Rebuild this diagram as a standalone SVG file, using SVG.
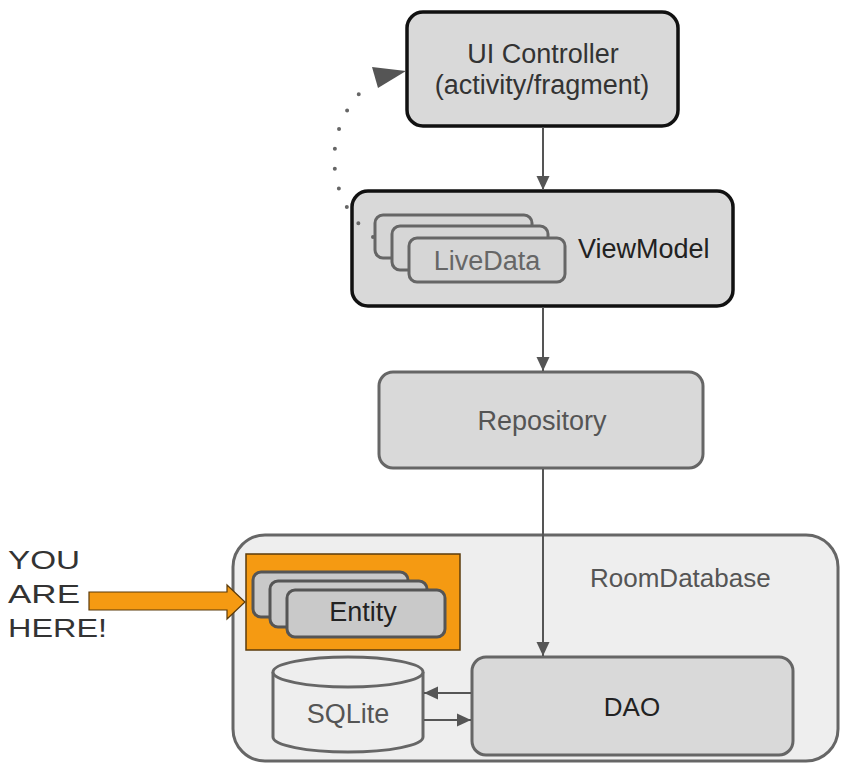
<svg xmlns="http://www.w3.org/2000/svg" width="842" height="764" viewBox="0 0 842 764">
<defs>
<style>
text{font-family:"Liberation Sans",Arial,Helvetica,sans-serif;}
.box{fill:#d9d9d9;}
.dark{stroke:#111;stroke-width:3.5;}
.gray{stroke:#666;stroke-width:3;}
.stack{fill:#d6d6d6;stroke:#666;stroke-width:3;}
.ent{fill:#c9c9c9;stroke:#555;stroke-width:3;}
.conn{stroke:#555;stroke-width:2;fill:none;}
.lbl{font-size:27px;text-anchor:middle;}
.here{font-size:26px;fill:#333;}
</style>
<marker id="ah" viewBox="0 0 14 14" refX="14" refY="7" markerWidth="14" markerHeight="14" markerUnits="userSpaceOnUse" orient="auto">
<path d="M0,0.5 L14,7 L0,13.5 z" fill="#555"/>
</marker>
</defs>
<rect width="842" height="764" fill="#ffffff"/>

<g id="roomdatabase">
<rect x="233" y="535" width="605" height="226" rx="32" ry="32" fill="#eeeeee" stroke="#666" stroke-width="3"/>
<text x="590" y="587" style="font-size:26px" fill="#555">RoomDatabase</text>
</g>

<g id="ui-controller">
<rect class="box dark" x="407" y="12" width="271" height="114" rx="16" ry="16"/>
<text class="lbl" x="543" y="63" fill="#333">UI Controller</text>
<text class="lbl" x="542" y="94" fill="#333">(activity/fragment)</text>
</g>

<g id="viewmodel">
<rect class="box dark" x="352" y="191" width="381" height="115" rx="16" ry="16"/>
<rect class="stack" x="375" y="215" width="157" height="43" rx="8" ry="8"/>
<rect class="stack" x="392" y="226" width="156" height="44" rx="8" ry="8"/>
<rect class="stack" x="409" y="238" width="156" height="44" rx="8" ry="8"/>
<text class="lbl" x="487" y="270" fill="#666">LiveData</text>
<text x="578" y="258" style="font-size:27px" fill="#222">ViewModel</text>
</g>

<g id="repository">
<rect class="box gray" x="379" y="372" width="324" height="96" rx="14" ry="14"/>
<text class="lbl" x="542" y="430" fill="#555">Repository</text>
</g>

<g id="entity">
<rect x="246" y="554" width="214" height="96" fill="#f59a12" stroke="#5b3b0b" stroke-width="1.5"/>
<rect class="ent" x="253" y="572" width="155" height="45" rx="8" ry="8"/>
<rect class="ent" x="270" y="581" width="157" height="46" rx="8" ry="8"/>
<rect class="ent" x="287" y="590" width="158" height="47" rx="8" ry="8"/>
<text class="lbl" x="363" y="621" fill="#222">Entity</text>
</g>

<g id="dao">
<rect class="box gray" x="472" y="657" width="321" height="98" rx="14" ry="14"/>
<text class="lbl" x="632" y="716" style="font-size:26px" fill="#222">DAO</text>
</g>

<g id="sqlite">
<path d="M273,672 L273,737 A75,15 0 0 0 423,737 L423,672" fill="#eeeeee" stroke="#666" stroke-width="3"/>
<ellipse cx="348" cy="672" rx="75" ry="15" fill="#eeeeee" stroke="#666" stroke-width="3"/>
<text class="lbl" x="348" y="723" fill="#555">SQLite</text>
</g>

<g id="you-are-here">
<polygon points="89,592 227,592 227,585 245,602 227,619 227,610 89,610" fill="#f59a12" stroke="#5b3b0b" stroke-width="1.2"/>
<text class="here" x="8" y="569" textLength="72" lengthAdjust="spacingAndGlyphs">YOU</text>
<text class="here" x="8" y="603" textLength="72" lengthAdjust="spacingAndGlyphs">ARE</text>
<text class="here" x="8" y="637" textLength="99" lengthAdjust="spacingAndGlyphs">HERE!</text>
</g>

<g id="connectors">
<line class="conn" x1="543" y1="127" x2="543" y2="190" marker-end="url(#ah)"/>
<line class="conn" x1="543" y1="307" x2="543" y2="371" marker-end="url(#ah)"/>
<line class="conn" x1="543" y1="469" x2="543" y2="656" marker-end="url(#ah)"/>
<line class="conn" x1="471" y1="693" x2="424" y2="693" marker-end="url(#ah)"/>
<line class="conn" x1="424" y1="720" x2="471" y2="720" marker-end="url(#ah)"/>
<path d="M373,237 A98,98 0 0 1 373,81" fill="none" stroke="#666" stroke-width="4" stroke-linecap="round" stroke-dasharray="0 20.1"/>
<polygon points="372,67 378,88 406,71" fill="#555"/>
</g>
</svg>
